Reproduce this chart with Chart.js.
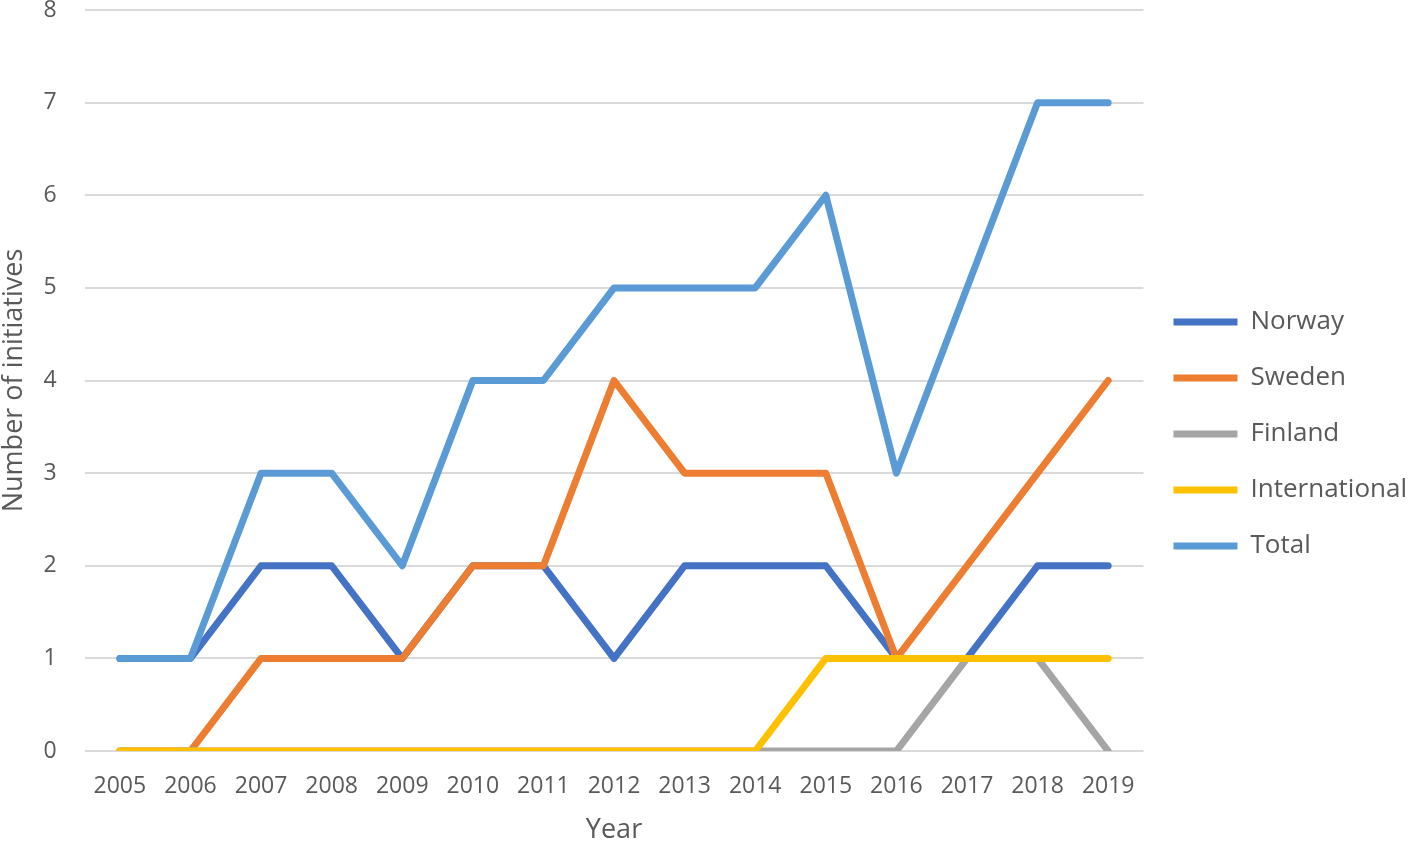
<!DOCTYPE html>
<html lang="en">
<head>
    <meta charset="UTF-8">
    <title>Number of initiatives per year</title>
    <script src="https://cdn.jsdelivr.net/npm/chart.js"></script>
    <style>
        body {
            margin: 0;
            padding: 0;
            background-color: #fff;
        }
        canvas {
            display: block;
        }
    </style>
</head>
<body>
    <canvas id="myChart" width="1418" height="842"></canvas>

    <script>
        // Data
        const years = ['2005', '2006', '2007', '2008', '2009', '2010', '2011', '2012', '2013', '2014', '2015', '2016', '2017', '2018', '2019'];
        const norway        = [1, 1, 2, 2, 1, 2, 2, 1, 2, 2, 2, 1, 1, 2, 2];
        const sweden        = [0, 0, 1, 1, 1, 2, 2, 4, 3, 3, 3, 1, 2, 3, 4];
        const finland       = [0, 0, 0, 0, 0, 0, 0, 0, 0, 0, 0, 0, 1, 1, 0];
        const international = [0, 0, 0, 0, 0, 0, 0, 0, 0, 0, 1, 1, 1, 1, 1];
        const total         = [1, 1, 3, 3, 2, 4, 4, 5, 5, 5, 6, 3, 5, 7, 7];

        const textColor = '#595959';
        const fontFamily = '"Open Sans", sans-serif';

        // later series sit on top, like the original
        function series(label, values, color, order) {
            return {
                label: label,
                data: values,
                borderColor: color,
                backgroundColor: color,
                borderWidth: 7,
                borderCapStyle: 'round',
                borderJoinStyle: 'round',
                pointRadius: 0,
                pointHoverRadius: 0,
                tension: 0,
                fill: false,
                order: order
            };
        }

        const ctx = document.getElementById('myChart').getContext('2d');
        const myChart = new Chart(ctx, {
            type: 'line',
            data: {
                labels: years,
                datasets: [
                    series('Norway', norway, '#4472C4', 4),
                    series('Sweden', sweden, '#ED7D31', 3),
                    series('Finland', finland, '#A5A5A5', 2),
                    series('International', international, '#FFC000', 1),
                    series('Total', total, '#5B9BD5', 0)
                ]
            },
            options: {
                responsive: false,
                animation: false,
                layout: {
                    padding: { top: 0, right: 1, bottom: -26, left: -2 }
                },
                plugins: {
                    tooltip: { enabled: false },
                    legend: {
                        position: 'right',
                        align: 'center',
                        labels: {
                            usePointStyle: true,
                            pointStyle: 'line',
                            pointStyleWidth: 64,
                            padding: 30,
                            color: textColor,
                            font: { family: fontFamily, size: 26 },
                            sort: (a, b) => a.datasetIndex - b.datasetIndex
                        }
                    }
                },
                scales: {
                    x: {
                        offset: true,
                        grid: { display: false },
                        border: { display: false },
                        ticks: {
                            color: textColor,
                            font: { family: fontFamily, size: 23 },
                            padding: 14,
                            maxRotation: 0
                        },
                        title: {
                            display: true,
                            text: 'Year',
                            color: textColor,
                            font: { family: fontFamily, size: 27 },
                            padding: { top: 0, bottom: 21 }
                        }
                    },
                    y: {
                        min: 0,
                        max: 8,
                        grid: {
                            color: '#d9d9d9',
                            lineWidth: 2,
                            drawTicks: true,
                            tickLength: 26,
                            tickColor: 'rgba(0,0,0,0)'
                        },
                        border: { display: false },
                        ticks: {
                            stepSize: 1,
                            color: textColor,
                            font: { family: fontFamily, size: 23 },
                            padding: 2
                        },
                        title: {
                            display: true,
                            text: 'Number of initiatives',
                            color: textColor,
                            font: { family: fontFamily, size: 27 },
                            padding: { top: 0, bottom: 11 }
                        },
                        afterFit: (scale) => { scale.paddingTop = 10; }
                    }
                }
            }
        });
    </script>
</body>
</html>
